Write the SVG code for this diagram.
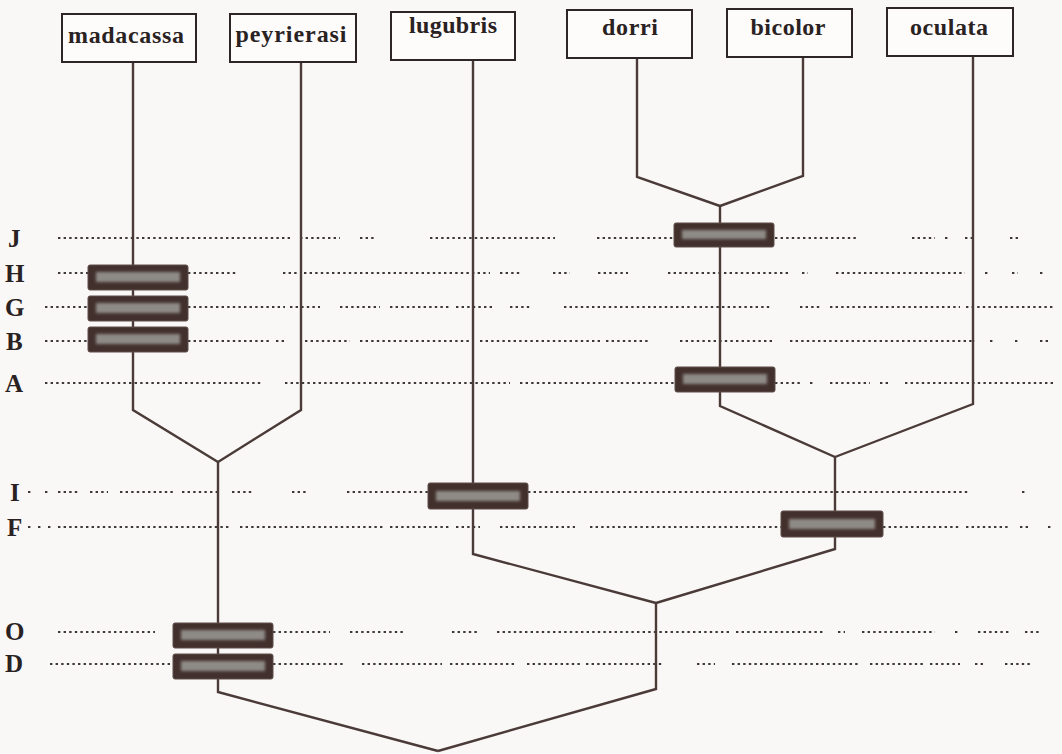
<svg xmlns="http://www.w3.org/2000/svg" width="1062" height="754" viewBox="0 0 1062 754">
<defs>
<style>
.bg{fill:#faf8f6}
.taxon rect{fill:#fdfcfb;stroke:#2e2626;stroke-width:2}
.taxon text{font-family:"Liberation Serif","Times New Roman",serif;font-weight:bold;font-size:24px;fill:#2a2222;text-anchor:middle}
.lbl{font-family:"Liberation Serif","Times New Roman",serif;font-weight:bold;font-size:25px;fill:#2a2222}
.dots line{stroke:#3e3838;stroke-width:2;stroke-dasharray:2.4 3.2}
.edges polyline{fill:none;stroke:#4a3a38;stroke-width:2.4;stroke-linejoin:miter}
.mark rect.o{fill:#42302c;stroke:#5e4e4a;stroke-width:1}
.mark rect.i{fill:#8e8a86;filter:url(#blur)}
</style>
<filter id="blur" x="-10%" y="-50%" width="120%" height="200%"><feGaussianBlur stdDeviation="1.8"/></filter>
</defs>
<rect class="bg" x="0" y="0" width="1062" height="754"/>

<g id="dotted-rows" class="dots">
<!-- J -->
<line x1="58" y1="238" x2="290" y2="238"/><line x1="300" y1="238" x2="340" y2="238"/><line x1="360" y1="238" x2="375" y2="238"/><line x1="430" y1="238" x2="555" y2="238"/><line x1="597" y1="238" x2="675" y2="238"/><line x1="775" y1="238" x2="858" y2="238"/><line x1="912" y1="238" x2="935" y2="238"/><line x1="945" y1="238" x2="950" y2="238"/><line x1="965" y1="238" x2="975" y2="238"/><line x1="1010" y1="238" x2="1020" y2="238"/>
<!-- H -->
<line x1="58" y1="273" x2="88" y2="273"/><line x1="188" y1="273" x2="237" y2="273"/><line x1="283" y1="273" x2="298" y2="273"/><line x1="304" y1="273" x2="490" y2="273"/><line x1="500" y1="273" x2="520" y2="273"/><line x1="553" y1="273" x2="570" y2="273"/><line x1="598" y1="273" x2="628" y2="273"/><line x1="668" y1="273" x2="790" y2="273"/><line x1="802" y1="273" x2="808" y2="273"/><line x1="836" y1="273" x2="965" y2="273"/><line x1="985" y1="273" x2="990" y2="273"/><line x1="1012" y1="273" x2="1018" y2="273"/><line x1="1040" y1="273" x2="1045" y2="273"/>
<!-- G -->
<line x1="45" y1="307" x2="88" y2="307"/><line x1="188" y1="307" x2="285" y2="307"/><line x1="290" y1="307" x2="320" y2="307"/><line x1="340" y1="307" x2="380" y2="307"/><line x1="390" y1="307" x2="450" y2="307"/><line x1="456" y1="307" x2="495" y2="307"/><line x1="510" y1="307" x2="530" y2="307"/><line x1="564" y1="307" x2="690" y2="307"/><line x1="694" y1="307" x2="770" y2="307"/><line x1="800" y1="307" x2="820" y2="307"/><line x1="830" y1="307" x2="960" y2="307"/><line x1="966" y1="307" x2="1055" y2="307"/>
<!-- B -->
<line x1="45" y1="341" x2="88" y2="341"/><line x1="188" y1="341" x2="270" y2="341"/><line x1="276" y1="341" x2="285" y2="341"/><line x1="305" y1="341" x2="350" y2="341"/><line x1="360" y1="341" x2="470" y2="341"/><line x1="480" y1="341" x2="600" y2="341"/><line x1="606" y1="341" x2="650" y2="341"/><line x1="680" y1="341" x2="775" y2="341"/><line x1="790" y1="341" x2="975" y2="341"/><line x1="990" y1="341" x2="995" y2="341"/><line x1="1015" y1="341" x2="1020" y2="341"/><line x1="1040" y1="341" x2="1048" y2="341"/>
<!-- A -->
<line x1="45" y1="383" x2="262" y2="383"/><line x1="285" y1="383" x2="510" y2="383"/><line x1="520" y1="383" x2="675" y2="383"/><line x1="775" y1="383" x2="800" y2="383"/><line x1="810" y1="383" x2="815" y2="383"/><line x1="830" y1="383" x2="870" y2="383"/><line x1="880" y1="383" x2="890" y2="383"/><line x1="905" y1="383" x2="1055" y2="383"/>
<!-- I -->
<line x1="28" y1="492" x2="31" y2="492"/><line x1="45" y1="492" x2="48" y2="492"/><line x1="58" y1="492" x2="80" y2="492"/><line x1="90" y1="492" x2="108" y2="492"/><line x1="120" y1="492" x2="175" y2="492"/><line x1="182" y1="492" x2="220" y2="492"/><line x1="232" y1="492" x2="252" y2="492"/><line x1="292" y1="492" x2="308" y2="492"/><line x1="347" y1="492" x2="428" y2="492"/><line x1="528" y1="492" x2="970" y2="492"/><line x1="1022" y1="492" x2="1025" y2="492"/>
<!-- F -->
<line x1="28" y1="527" x2="31" y2="527"/><line x1="38" y1="527" x2="41" y2="527"/><line x1="48" y1="527" x2="52" y2="527"/><line x1="58" y1="527" x2="230" y2="527"/><line x1="240" y1="527" x2="385" y2="527"/><line x1="390" y1="527" x2="450" y2="527"/><line x1="456" y1="527" x2="480" y2="527"/><line x1="500" y1="527" x2="575" y2="527"/><line x1="590" y1="527" x2="781" y2="527"/><line x1="883" y1="527" x2="960" y2="527"/><line x1="966" y1="527" x2="1010" y2="527"/><line x1="1020" y1="527" x2="1030" y2="527"/><line x1="1048" y1="527" x2="1052" y2="527"/>
<!-- O -->
<line x1="58" y1="632" x2="155" y2="632"/><line x1="273" y1="632" x2="330" y2="632"/><line x1="350" y1="632" x2="405" y2="632"/><line x1="452" y1="632" x2="480" y2="632"/><line x1="497" y1="632" x2="730" y2="632"/><line x1="736" y1="632" x2="825" y2="632"/><line x1="838" y1="632" x2="845" y2="632"/><line x1="862" y1="632" x2="935" y2="632"/><line x1="955" y1="632" x2="960" y2="632"/><line x1="978" y1="632" x2="1010" y2="632"/><line x1="1025" y1="632" x2="1040" y2="632"/>
<!-- D -->
<line x1="50" y1="664" x2="173" y2="664"/><line x1="273" y1="664" x2="345" y2="664"/><line x1="362" y1="664" x2="442" y2="664"/><line x1="450" y1="664" x2="515" y2="664"/><line x1="527" y1="664" x2="582" y2="664"/><line x1="586" y1="664" x2="662" y2="664"/><line x1="697" y1="664" x2="715" y2="664"/><line x1="732" y1="664" x2="860" y2="664"/><line x1="870" y1="664" x2="925" y2="664"/><line x1="930" y1="664" x2="960" y2="664"/><line x1="975" y1="664" x2="985" y2="664"/><line x1="1005" y1="664" x2="1030" y2="664"/>
</g>

<g id="row-labels" class="lbl">
<text x="8" y="247">J</text>
<text x="5" y="282">H</text>
<text x="5" y="316">G</text>
<text x="6" y="350">B</text>
<text x="5" y="392">A</text>
<text x="10" y="501">I</text>
<text x="7" y="536">F</text>
<text x="5" y="640">O</text>
<text x="5" y="672">D</text>
</g>

<g id="connectors" class="edges">
<polyline points="133,62 133,410 218,462"/>
<polyline points="301,62 301,410 218,462"/>
<polyline points="637,58 637,177 720,206"/>
<polyline points="803,57 803,176 720,206"/>
<polyline points="720,206 720,406 835,457"/>
<polyline points="973,56 973,404 835,457"/>
<polyline points="473,60 473,554 656,603"/>
<polyline points="835,457 835,549 656,603"/>
<polyline points="218,462 218,692 438,751"/>
<polyline points="656,603 656,689 438,751"/>
</g>

<g id="marker-J" class="mark"><rect class="o" x="674" y="223" width="100" height="24" rx="2"/><rect class="i" x="682" y="230" width="84" height="9"/></g>
<g id="marker-H" class="mark"><rect class="o" x="88" y="265" width="100" height="25" rx="2"/><rect class="i" x="96" y="272" width="84" height="10"/></g>
<g id="marker-G" class="mark"><rect class="o" x="88" y="296" width="100" height="25" rx="2"/><rect class="i" x="96" y="303" width="84" height="10"/></g>
<g id="marker-B" class="mark"><rect class="o" x="88" y="327" width="100" height="25" rx="2"/><rect class="i" x="96" y="334" width="84" height="10"/></g>
<g id="marker-A" class="mark"><rect class="o" x="675" y="367" width="100" height="25" rx="2"/><rect class="i" x="683" y="374" width="84" height="10"/></g>
<g id="marker-I" class="mark"><rect class="o" x="428" y="483" width="100" height="26" rx="2"/><rect class="i" x="436" y="491" width="84" height="10"/></g>
<g id="marker-F" class="mark"><rect class="o" x="781" y="511" width="102" height="26" rx="2"/><rect class="i" x="789" y="519" width="86" height="10"/></g>
<g id="marker-O" class="mark"><rect class="o" x="173" y="623" width="100" height="25" rx="2"/><rect class="i" x="181" y="630" width="84" height="10"/></g>
<g id="marker-D" class="mark"><rect class="o" x="173" y="654" width="100" height="25" rx="2"/><rect class="i" x="181" y="661" width="84" height="10"/></g>

<g id="taxon-madacassa" class="taxon"><rect x="62" y="14" width="134" height="48"/><text x="126" y="43" textLength="116" lengthAdjust="spacing">madacassa</text></g>
<g id="taxon-peyrierasi" class="taxon"><rect x="230" y="14" width="126" height="48"/><text x="291" y="42" textLength="111" lengthAdjust="spacing">peyrierasi</text></g>
<g id="taxon-lugubris" class="taxon"><rect x="391" y="12" width="124" height="48"/><text x="453" y="33" textLength="88" lengthAdjust="spacing">lugubris</text></g>
<g id="taxon-dorri" class="taxon"><rect x="567" y="10" width="125" height="48"/><text x="630" y="35" textLength="56" lengthAdjust="spacing">dorri</text></g>
<g id="taxon-bicolor" class="taxon"><rect x="727" y="9" width="125" height="48"/><text x="788" y="35" textLength="75" lengthAdjust="spacing">bicolor</text></g>
<g id="taxon-oculata" class="taxon"><rect x="887" y="8" width="126" height="48"/><text x="949" y="35" textLength="78" lengthAdjust="spacing">oculata</text></g>
</svg>
